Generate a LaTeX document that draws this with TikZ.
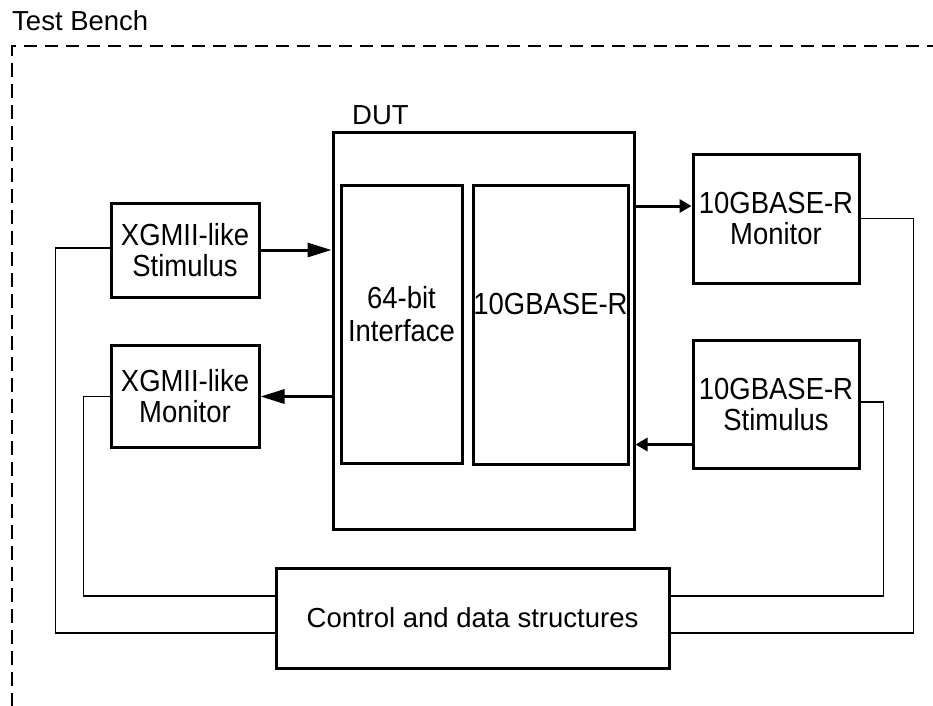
\documentclass[tikz,border=0pt]{standalone}
\usepackage{fontspec}
\setmainfont{Liberation Sans}
\newfontfamily\bxfont{Liberation Sans}[FakeStretch=0.9]
\usetikzlibrary{arrows.meta}
\begin{document}
\begin{tikzpicture}[x=1pt,y=-1pt,
  every node/.style={font=\fontsize{27.5}{31}\selectfont},
  blk/.style={draw, line width=3pt, inner sep=0pt, align=center, rectangle,
    font=\bxfont\fontsize{30.5}{31}\selectfont},
  lbl/.style={inner sep=0pt, align=center, font=\bxfont\fontsize{30.5}{33}\selectfont},
  thinln/.style={line width=1.3pt},
  arrL/.style={line width=3pt, -{Triangle[length=24pt,width=14pt]}},
  arrR/.style={line width=3pt, -{Triangle[length=12pt,width=13pt]}},
  tb/.style={line width=1.7pt, dash pattern=on 13.5pt off 7.5pt}]
\useasboundingbox (0,0) rectangle (933,705);
% test bench frame
\node[anchor=base west, inner sep=0pt] (tblabel) at (12,30.5) {Test Bench};
\coordinate (tbtr) at (940,46);
\coordinate (tbtl) at (12,46);
\coordinate (tbbl) at (12,712);
\draw[tb] (tbtr) -- (tbtl) -- (tbbl);
% DUT
\node[blk, minimum width=301pt, minimum height=397pt] (dut) at (483.5,330.5) {};
\node[anchor=base west, inner sep=0pt] (dutlabel) at (352,124) {DUT};
\node[blk, minimum width=121pt, minimum height=278pt] (iface) at (401.5,324) {};
\node[lbl] (ifacetxt) at ([yshift=10pt]iface.center) {64-bit\\Interface};
\node[blk, minimum width=155pt, minimum height=279pt] (core) at (550.5,324.5) {};
\node[lbl] (coretxt) at ([yshift=20.5pt]core.center) {10GBASE-R};
% side blocks
\node[blk, minimum width=148pt, minimum height=94pt] (xstim) at (185,250) {XGMII-like\\Stimulus};
\node[blk, minimum width=148pt, minimum height=102pt] (xmon) at (185,396.5) {XGMII-like\\Monitor};
\node[blk, minimum width=166pt, minimum height=129pt] (rmon) at (776,218.5) {10GBASE-R\\Monitor};
\node[blk, minimum width=166pt, minimum height=128pt] (rstim) at (776,404) {10GBASE-R\\Stimulus};
\node[blk, minimum width=393pt, minimum height=100pt, font=\fontsize{27.5}{31}\selectfont] (ctrl) at (472.5,618) {Control and data structures};
% thick arrows
\draw[arrL] (xstim.east) -- (xstim.east -| dut.west);
\draw[arrL] (xmon.east -| dut.west) -- (xmon.east);
\coordinate (a3) at ([yshift=12.5pt]rmon.west);
\draw[arrR] (dut.east |- a3) -- (a3);
\coordinate (a4) at ([yshift=-40.5pt]rstim.west);
\draw[arrR] (a4) -- (dut.east |- a4);
% thin connections
\draw[thinln] ([yshift=2pt]xstim.west) -- ++(-54,0) |- ([yshift=-15pt]ctrl.west);
\draw[thinln] (xmon.west) -- ++(-26,0) |- ([yshift=22pt]ctrl.west);
\draw[thinln] (rmon.east) -- ++(53,0) |- ([yshift=-15pt]ctrl.east);
\draw[thinln] ([yshift=2pt]rstim.east) -- ++(23,0) |- ([yshift=22pt]ctrl.east);
\end{tikzpicture}
\end{document}
